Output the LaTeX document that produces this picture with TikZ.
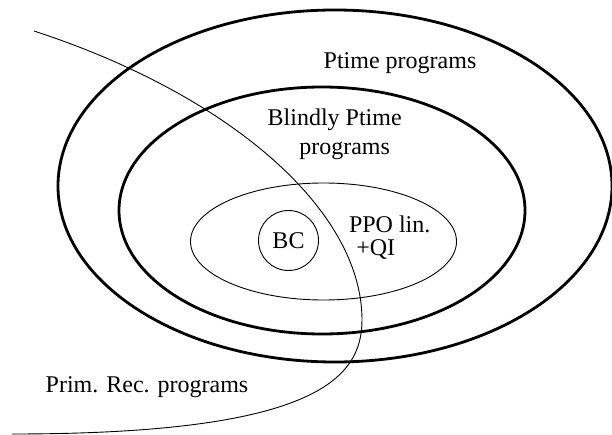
\documentclass[tikz,border=0pt]{standalone}
\usepackage{fontspec}
\setmainfont{Liberation Serif}
\usepackage{tikz}
\usetikzlibrary{positioning}

\begin{document}
\begin{tikzpicture}[x=1pt, y=-1pt,
    setline/.style={line width=2.8pt},
    thinline/.style={line width=0.9pt},
    lbl/.style={font=\fontsize{24}{28}\selectfont, inner sep=0pt, anchor=base}]
\useasboundingbox (0,0) rectangle (612,435);
\begin{scope}
    % Program classes
    \draw[setline] (335,186) ellipse [x radius=277, y radius=176];
    \draw[setline] (322,210.5) ellipse [x radius=203, y radius=123.5];
    \draw[thinline] (323.5,241.5) ellipse [x radius=133, y radius=58.5];
    \node[draw, circle, thinline, minimum size=60pt, inner sep=0pt,
          font=\fontsize{24}{28}\selectfont] (bc) at (288.5,240.5) {BC};

    % Prim. Rec. border
    \draw[thinline] (34,31) .. controls (230,95) and (362,210) .. (362,320)
        .. controls (362,380) and (312,434) .. (12,434);

    % Labels
    \node[lbl] (ptime) at (400,68.3) {Ptime programs};
    \node[lbl] (blind) at (334.7,126) {Blindly Ptime};
    \node[lbl] (blindb) at (344.6,155) {programs};
    \node[lbl] (ppo) at (389.7,232.7) {PPO lin.};
    \node[lbl] (qi) at (375.7,255) {+QI};
    \node[lbl] (primrec) at (147,392) {Prim. Rec. programs};
\end{scope}
\end{tikzpicture}
\end{document}
